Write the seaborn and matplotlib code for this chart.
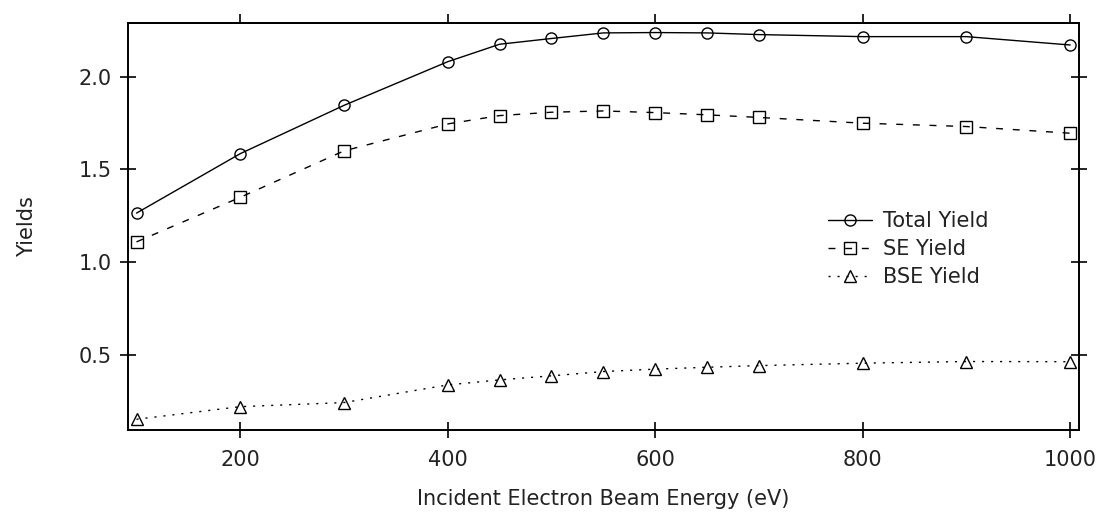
import matplotlib
matplotlib.use("Agg")
import matplotlib.pyplot as plt
import seaborn as sns
import pandas as pd

energy = [100, 200, 300, 400, 450, 500, 550, 600, 650, 700, 800, 900, 1000]
total_yield = [1.265, 1.585, 1.845, 2.08, 2.174, 2.205, 2.235, 2.237, 2.235, 2.226, 2.215, 2.215, 2.17]
se_yield = [1.11, 1.35, 1.60, 1.745, 1.79, 1.808, 1.815, 1.806, 1.794, 1.78, 1.749, 1.731, 1.695]
bse_yield = [0.155, 0.223, 0.245, 0.34, 0.367, 0.389, 0.412, 0.425, 0.435, 0.444, 0.457, 0.466, 0.465]

labels = ["Total Yield", "SE Yield", "BSE Yield"]
x_ticks = [200, 400, 600, 800, 1000]
y_ticks = [0.5, 1.0, 1.5, 2.0]

sns.set_theme(style="white")
plt.rcParams['font.family'] = ['DejaVu Sans']

FS = 15
TXT = "#222222"

fig = plt.figure(figsize=(11.01, 5.14), dpi=100)
ax = fig.add_axes([127.7 / 1101, 1 - 429.5 / 514, (1079 - 127.7) / 1101, (429.5 - 22.7) / 514])

df = pd.DataFrame({"energy": energy, "total": total_yield, "se": se_yield, "bse": bse_yield})

styles = [
    ("total", "o", "-", 8),
    ("se", "s", (0, (5, 7)), 9),
    ("bse", "^", (0, (1.5, 5)), 9),
]
for (col, mk, ls, ms), lab in zip(styles, labels):
    sns.lineplot(data=df, x="energy", y=col, ax=ax, color="black", linewidth=1.0,
                 linestyle=ls, marker=mk, markersize=ms, markerfacecolor="none",
                 markeredgecolor="black", markeredgewidth=1.0, label=lab)

ax.set_xlim(91.5, 1008.5)
ax.set_ylim(0.10, 2.29)
ax.set_xticks(x_ticks)
ax.set_yticks(y_ticks)
ax.set_yticklabels([f"{v:.1f}" for v in y_ticks])

for s in ax.spines.values():
    s.set_color("black")
    s.set_linewidth(1.4)

ax.tick_params(axis="x", which="both", bottom=True, top=False, direction="inout",
               length=11, width=1.2, color="black", labelsize=FS, pad=9, labelcolor=TXT)
ax.tick_params(axis="y", which="both", left=True, right=True, direction="inout",
               length=11.5, width=1.2, color="black", labelsize=FS, pad=6, labelcolor=TXT)

# top ticks: outward only
top = ax.secondary_xaxis("top")
top.set_xticks(x_ticks)
top.tick_params(axis="x", direction="out", length=6.5, width=1.2, color="black", labeltop=False)
top.spines["top"].set_linewidth(1.4)

ax.set_xlabel("Incident Electron Beam Energy (eV)", fontsize=FS, color=TXT, labelpad=14)
ax.set_ylabel("Yields", fontsize=FS, color=TXT, labelpad=30)

leg = ax.legend(loc="upper left", bbox_to_anchor=(828 / 1101, 1 - 211 / 514),
                bbox_transform=fig.transFigure, frameon=False, fontsize=FS,
                handlelength=2.1, handletextpad=0.55, labelspacing=0.38,
                borderpad=0, borderaxespad=0)
for txt in leg.get_texts():
    txt.set_color(TXT)

fig.savefig("out.png", dpi=100)
